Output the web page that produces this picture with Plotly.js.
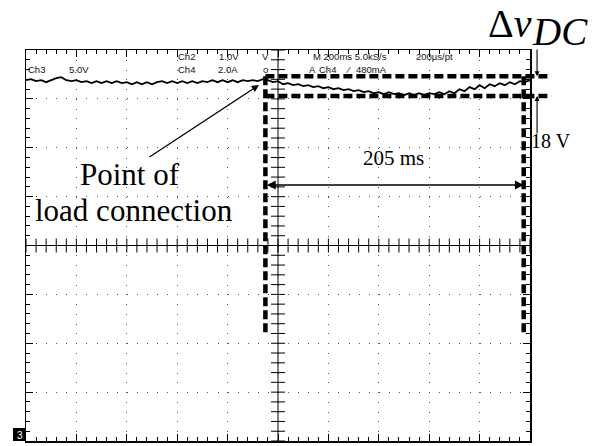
<!DOCTYPE html>
<html><head><meta charset="utf-8">
<script src="https://cdn.plot.ly/plotly-3.0.1.min.js"></script>
<style>html,body{margin:0;padding:0;background:#fff;} #chart{width:606px;height:446px;}</style>
</head><body><div id="chart"></div>
<script>
// ---- data (time in ms, DC-link voltage in V; 40 ms/div, 5 V/div) ----
const timeMs = [0,4,8,12,16,20,24,28,32,36,40,44,48,52,56,60,64,68,72,76,80,84,88,92,96,100,
  104,108,112,116,120,124,128,132,136,140,144,148,152,156,160,164,168,172,176,180,184,188,192,196,200,
  204,208,212,216,220,224,228,232,236,240,244,248,252,256,260,264,268,272,276,280,284,288,292,296,300,
  304,308,312,316,320,324,328,332,336,340,344,348,352,356,360,364,368,372,376,380,384,388,392,396,400];
const vdc = [36.91,37.01,36.81,36.91,36.71,36.91,37.12,37.22,36.91,36.81,
  36.91,36.71,36.81,36.61,36.81,36.61,36.81,36.61,36.81,36.61,
  36.71,36.50,36.71,36.50,36.71,36.50,36.71,36.81,36.61,36.81,
  36.61,36.81,36.61,36.81,36.61,36.81,36.71,36.91,36.71,36.91,
  36.71,36.91,36.71,36.91,36.81,36.91,36.81,37.01,36.91,36.71,
  36.81,36.50,36.61,36.40,36.50,36.30,36.40,36.20,36.30,36.09,
  36.20,35.99,36.09,35.89,35.99,35.79,35.89,35.69,35.79,35.58,
  35.69,35.48,35.69,35.48,35.58,35.38,35.58,35.38,35.58,35.38,
  35.58,35.48,35.69,35.48,35.79,35.58,35.99,35.79,36.20,35.99,
  36.40,36.09,36.50,36.30,36.61,36.40,36.71,36.50,36.81,36.71,36.91];
const levelSpanMs = [190, 417];          // extent of the ΔV level markers
const levelVolts = [37.32, 35.29];       // upper / lower level
const eventTimesMs = [190, 395];         // load connection, recovery
const eventSpanVolts = [37.32, 11.05];   // vertical marker extent
const durationArrowV = [26.19];
const deltaArrowMs = [405.6];
const deltaArrowTailV = [40.2, 31.3];
const loadArrowTip = [184.9, 36.42];
const durationLabel = ['205 ms'];
const deltaLabel = ['18 V'];
const xRange = [0, 400];
const yRange = [0, 40];
const xDiv = 40, yDiv = 5;

// ---- geometry ----
const W = 606, H = 446;
const gx0 = 26, gx1 = 530, gy0 = 50, gy1 = 441;
const pxPerMs = (gx1 - gx0) / (xRange[1] - xRange[0]);
const pxPerV = (gy1 - gy0) / (yRange[1] - yRange[0]);
const x2Right = 600, y2Top = 0;
const PX = px => px / W, PY = py => 1 - py / H;

const xc = (xRange[0] + xRange[1]) / 2, yc = (yRange[0] + yRange[1]) / 2;
const tickY = [], tickX = [];
for (let v = yRange[0]; v <= yRange[1] + 1e-9; v += yDiv / 5) tickY.push(v);
for (let t = xRange[0]; t <= xRange[1] + 1e-9; t += xDiv / 5) tickX.push(t);

const blk = '#000';
const traces = [
  {x: timeMs, y: vdc, xaxis: 'x', yaxis: 'y', mode: 'lines', line: {color: blk, width: 1.8}, hoverinfo: 'skip'},
  {x: tickY.map(() => xc), y: tickY, xaxis: 'x', yaxis: 'y', mode: 'markers',
   marker: {symbol: 'line-ew', size: 10, line: {color: blk, width: 1}}, hoverinfo: 'skip'},
  {x: tickX, y: tickX.map(() => yc), xaxis: 'x', yaxis: 'y', mode: 'markers',
   marker: {symbol: 'line-ns', size: 10, line: {color: blk, width: 1}}, hoverinfo: 'skip'},
  {x: levelSpanMs, y: [levelVolts[0], levelVolts[0]], xaxis: 'x2', yaxis: 'y2', mode: 'lines',
   line: {color: blk, width: 4.5, dash: '9px,4px'}, hoverinfo: 'skip'},
  {x: levelSpanMs, y: [levelVolts[1], levelVolts[1]], xaxis: 'x2', yaxis: 'y2', mode: 'lines',
   line: {color: blk, width: 4.5, dash: '9px,4px'}, hoverinfo: 'skip'},
  {x: [eventTimesMs[0], eventTimesMs[0]], y: eventSpanVolts, xaxis: 'x2', yaxis: 'y2', mode: 'lines',
   line: {color: blk, width: 4.5, dash: '9px,4px'}, hoverinfo: 'skip'},
  {x: [eventTimesMs[1], eventTimesMs[1]], y: eventSpanVolts, xaxis: 'x2', yaxis: 'y2', mode: 'lines',
   line: {color: blk, width: 4.5, dash: '9px,4px'}, hoverinfo: 'skip'}
];

const gridAxis = (rng, dtick, mdtick, dash) => ({
  range: rng, dtick: dtick, tick0: rng[0], showgrid: true, gridcolor: '#555', gridwidth: 1, griddash: dash,
  showline: true, linecolor: blk, linewidth: 1.5, mirror: 'ticks', ticks: 'inside', ticklen: 7,
  tickcolor: blk, tickwidth: 1, showticklabels: false, zeroline: false, fixedrange: true,
  minor: {dtick: mdtick, tick0: rng[0], ticks: 'inside', ticklen: 4, tickcolor: blk, tickwidth: 1, showgrid: false}
});

const xaxis = Object.assign(gridAxis(xRange, xDiv, xDiv / 5, '1px,' + ((gy1 - gy0) / 40 - 1).toFixed(3) + 'px'),
  {domain: [PX(gx0), PX(gx1)], anchor: 'y'});
const yaxis = Object.assign(gridAxis(yRange, yDiv, yDiv / 5, '1px,' + ((gx1 - gx0) / 50 - 1).toFixed(3) + 'px'),
  {domain: [PY(gy1), PY(gy0)], anchor: 'x'});
const xaxis2 = {domain: [PX(gx0), PX(x2Right)], range: [0, (x2Right - gx0) / pxPerMs], anchor: 'y2', visible: false, fixedrange: true};
const yaxis2 = {domain: [PY(gy1), PY(y2Top)], range: [0, (gy1 - y2Top) / pxPerV], anchor: 'x2', visible: false, fixedrange: true};

const scopeFont = {family: 'Liberation Sans, Arial, sans-serif', size: 9.5, color: '#111'};
const serif = 'Liberation Serif, Times New Roman, serif';
const txt = (s, px, py, font, xa, ya) => ({text: s, xref: 'paper', yref: 'paper', x: PX(px), y: PY(py),
  xanchor: xa || 'left', yanchor: ya || 'middle', showarrow: false, font: font, borderpad: 0});

const annotations = [
  txt('Ch2', 177, 56, scopeFont), txt('1.0V', 218, 56, scopeFont), txt('V', 261, 56, scopeFont),
  txt('M 200ms 5.0kS/s', 312, 56, scopeFont), txt('200µs/pt', 415, 56, scopeFont),
  txt('Ch3', 27, 69, scopeFont), txt('5.0V', 68, 69, scopeFont), txt('Ch4', 177, 69, scopeFont),
  txt('2.0A', 217, 69, scopeFont), txt('o', 262, 69, scopeFont),
  txt('A', 308, 69, scopeFont), txt('Ch4', 318, 69, scopeFont), txt('⁄', 345, 69, scopeFont), txt('480mA', 355, 69, scopeFont),
  txt('3', 19.5, 435, {family: 'Liberation Sans, Arial, sans-serif', size: 10, color: '#fff'}, 'center'),
  txt('Δ<i>v</i>', 487, 0, {family: serif, size: 40, color: blk}, 'left', 'top'),
  txt('<i>DC</i>', 531, 32, {family: serif, size: 39, color: blk}),
  txt(deltaLabel[0], 530, 141, {family: serif, size: 20, color: blk}),
  txt(durationLabel[0], 393, 158, {family: serif, size: 21, color: blk}, 'center'),
  txt('Point of', 130, 174, {family: serif, size: 31, color: blk}, 'center'),
  txt('load connection', 134, 211, {family: serif, size: 31, color: blk}, 'center'),
  {text: '', xref: 'x2', yref: 'y2', x: loadArrowTip[0], y: loadArrowTip[1], ax: -111, ay: 73,
   showarrow: true, arrowhead: 2, arrowsize: 1.1, arrowwidth: 1.3, arrowcolor: blk, standoff: 0},
  {text: '', xref: 'x2', yref: 'y2', x: eventTimesMs[1], y: durationArrowV[0], axref: 'x2', ayref: 'y2',
   ax: eventTimesMs[0], ay: durationArrowV[0], showarrow: true, arrowhead: 2, arrowside: 'end+start',
   arrowsize: 1.1, arrowwidth: 1.6, arrowcolor: blk, standoff: 0, startstandoff: 0},
  {text: '', xref: 'x2', yref: 'y2', x: deltaArrowMs[0], y: levelVolts[0], axref: 'x2', ayref: 'y2',
   ax: deltaArrowMs[0], ay: deltaArrowTailV[0], showarrow: true, arrowhead: 2, arrowsize: 0.9, arrowwidth: 1.1, arrowcolor: blk, standoff: 0},
  {text: '', xref: 'x2', yref: 'y2', x: deltaArrowMs[0], y: levelVolts[1], axref: 'x2', ayref: 'y2',
   ax: deltaArrowMs[0], ay: deltaArrowTailV[1], showarrow: true, arrowhead: 2, arrowsize: 0.9, arrowwidth: 1.1, arrowcolor: blk, standoff: 0}
];

const shapes = [
  {type: 'line', xref: 'x', yref: 'y', x0: xc, x1: xc, y0: yRange[0], y1: yRange[1], line: {color: blk, width: 1}},
  {type: 'line', xref: 'x', yref: 'y', x0: xRange[0], x1: xRange[1], y0: yc, y1: yc, line: {color: blk, width: 1}},
  {type: 'rect', xref: 'paper', yref: 'paper', x0: PX(13), x1: PX(26), y0: PY(441), y1: PY(428), fillcolor: blk, line: {width: 0}, layer: 'above'}
];

const layout = {
  width: W, height: H, margin: {l: 0, r: 0, t: 0, b: 0, pad: 0},
  paper_bgcolor: '#fff', plot_bgcolor: 'rgba(0,0,0,0)', showlegend: false,
  xaxis: xaxis, yaxis: yaxis, xaxis2: xaxis2, yaxis2: yaxis2,
  annotations: annotations, shapes: shapes
};
Plotly.newPlot('chart', traces, layout, {staticPlot: true, displayModeBar: false});
</script></body></html>
